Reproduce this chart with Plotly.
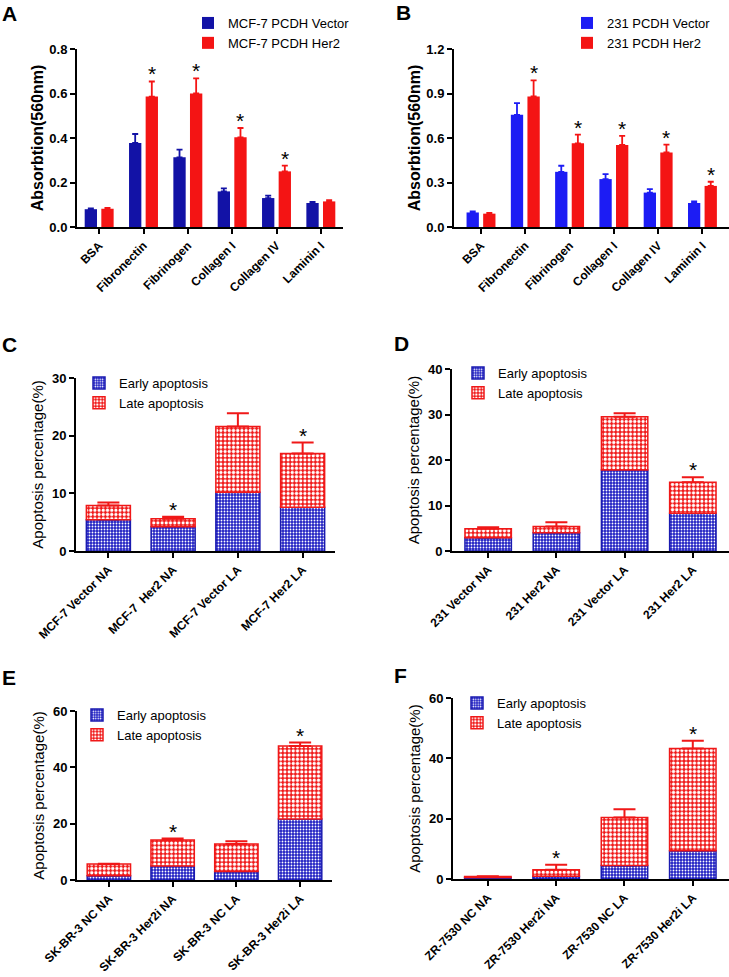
import plotly.graph_objects as go

# ---------------- data ----------------
# Panels A, B: adhesion assay
ecm = ["BSA", "Fibronectin", "Fibrinogen", "Collagen I", "Collagen IV", "Laminin I"]

a_vec = [0.08, 0.378, 0.313, 0.160, 0.130, 0.108]
a_vec_err = [0.004, 0.040, 0.035, 0.014, 0.011, 0.005]
a_her = [0.082, 0.586, 0.600, 0.403, 0.250, 0.115]
a_her_err = [0.004, 0.068, 0.068, 0.042, 0.026, 0.006]
a_sig = [False, True, True, True, True, False]

b_vec = [0.098, 0.756, 0.372, 0.323, 0.232, 0.162]
b_vec_err = [0.008, 0.079, 0.041, 0.033, 0.023, 0.011]
b_her = [0.090, 0.880, 0.564, 0.553, 0.503, 0.277]
b_her_err = [0.005, 0.108, 0.059, 0.061, 0.052, 0.028]
b_sig = [False, True, True, True, True, True]

# Panels C-F: apoptosis (early / late stacked)
c_cats = ["MCF-7 Vector NA", "MCF-7  Her2 NA", "MCF-7 Vector LA", "MCF-7 Her2 LA"]
c_early = [5.4, 4.2, 10.2, 7.6]
c_early_err = [0.3, 0.8, 2.1, 2.1]
c_late = [2.5, 1.4, 11.4, 9.3]
c_late_err = [0.5, 0.35, 2.3, 1.9]
c_sig = [False, True, False, True]

d_cats = ["231 Vector NA", "231 Her2 NA", "231 Vector LA", "231 Her2 LA"]
d_early = [2.9, 4.0, 17.8, 8.3]
d_early_err = [1.5, 0.7, 2.8, 0.7]
d_late = [2.0, 1.4, 11.7, 6.8]
d_late_err = [0.3, 0.9, 0.8, 1.1]
d_sig = [False, False, False, True]

e_cats = ["SK-BR-3 NC NA", "SK-BR-3 Her2i NA", "SK-BR-3 NC LA", "SK-BR-3 Her2i LA"]
e_early = [1.5, 5.0, 3.0, 21.7]
e_early_err = [0.1, 0.3, 0.5, 0.3]
e_late = [4.2, 9.2, 9.8, 25.9]
e_late_err = [0.1, 0.5, 1.0, 1.2]
e_sig = [False, True, False, True]

f_cats = ["ZR-7530 NC NA", "ZR-7530 Her2i NA", "ZR-7530 NC LA", "ZR-7530 Her2i LA"]
f_early = [0.5, 0.9, 4.5, 9.4]
f_early_err = [0.1, 0.2, 1.0, 2.8]
f_late = [0.3, 2.2, 15.9, 33.9]
f_late_err = [0.1, 1.6, 2.7, 2.5]
f_sig = [False, True, False, True]

# ---------------- style ----------------
W, H = 729, 977
FONT = "Arial, Liberation Sans, Helvetica, sans-serif"
A_BLUE = "#1212a6"
B_BLUE = "#1c1cf4"
RED = "#f41414"
E_BLUE = "#2222c4"
E_LINE = "#1a1ab0"
L_RED = "#f01818"

def xd(a, b):
    return [a / W, b / W]

def yd(top, bottom):
    return [1 - bottom / H, 1 - top / H]

fig = go.Figure()

GW = 0.278   # bar width (category units) for grouped panels
GO = 0.1875  # half spacing between paired bars

def grouped(cats, vec, vec_err, her, her_err, names, xa, ya, leg, blue):
    fig.add_trace(go.Bar(
        x=cats, y=vec, name=names[0], width=GW, offset=-GO - GW / 2,
        marker=dict(color=blue, line=dict(width=0)),
        error_y=dict(type="data", array=vec_err, arrayminus=[0] * len(vec),
                     symmetric=False, color=blue, thickness=1.8, width=3),
        xaxis=xa, yaxis=ya, legend=leg))
    fig.add_trace(go.Bar(
        x=cats, y=her, name=names[1], width=GW, offset=GO - GW / 2,
        marker=dict(color=RED, line=dict(width=0)),
        error_y=dict(type="data", array=her_err, arrayminus=[0] * len(her),
                     symmetric=False, color=RED, thickness=1.8, width=3),
        xaxis=xa, yaxis=ya, legend=leg))

def stacked(cats, early, early_err, late, late_err, xa, ya, leg):
    fig.add_trace(go.Bar(
        x=cats, y=early, name="Early apoptosis", width=0.68,
        marker=dict(color=E_BLUE, line=dict(color=E_LINE, width=1.5),
                    pattern=dict(shape=".", fgcolor="white", bgcolor=E_BLUE,
                                 size=3, solidity=0.3, fillmode="replace")),
        error_y=dict(type="data", array=early_err, arrayminus=[0] * len(early),
                     symmetric=False, color=E_LINE, thickness=2, width=11),
        xaxis=xa, yaxis=ya, legend=leg))
    fig.add_trace(go.Bar(
        x=cats, y=late, base=early, name="Late apoptosis", width=0.68,
        marker=dict(color=L_RED, line=dict(color=L_RED, width=1.5),
                    pattern=dict(shape=".", fgcolor="white", bgcolor=L_RED,
                                 size=4.2, solidity=0.45, fillmode="replace")),
        error_y=dict(type="data", array=late_err, arrayminus=[0] * len(late),
                     symmetric=False, color=L_RED, thickness=2, width=11),
        xaxis=xa, yaxis=ya, legend=leg))

grouped(ecm, a_vec, a_vec_err, a_her, a_her_err,
        ["MCF-7 PCDH Vector", "MCF-7 PCDH Her2"], "x", "y", "legend", A_BLUE)
grouped(ecm, b_vec, b_vec_err, b_her, b_her_err,
        ["231 PCDH Vector", "231 PCDH Her2"], "x2", "y2", "legend2", B_BLUE)
stacked(c_cats, c_early, c_early_err, c_late, c_late_err, "x3", "y3", "legend3")
stacked(d_cats, d_early, d_early_err, d_late, d_late_err, "x4", "y4", "legend4")
stacked(e_cats, e_early, e_early_err, e_late, e_late_err, "x5", "y5", "legend5")
stacked(f_cats, f_early, f_early_err, f_late, f_late_err, "x6", "y6", "legend6")

# significance stars
annotations = []

def stars_grouped(her, her_err, sig, xr, yr):
    for i, s in enumerate(sig):
        if s:
            annotations.append(dict(x=i + GO, y=her[i] + her_err[i], xref=xr, yref=yr,
                                    text="*", showarrow=False, yanchor="bottom",
                                    yshift=-6, font=dict(size=21, color="black", family=FONT)))

def stars_stacked(early, late, late_err, sig, xr, yr):
    for i, s in enumerate(sig):
        if s:
            annotations.append(dict(x=i, y=early[i] + late[i] + late_err[i], xref=xr, yref=yr,
                                    text="*", showarrow=False, yanchor="bottom",
                                    yshift=-6, font=dict(size=21, color="black", family=FONT)))

stars_grouped(a_her, a_her_err, a_sig, "x", "y")
stars_grouped(b_her, b_her_err, b_sig, "x2", "y2")
stars_stacked(c_early, c_late, c_late_err, c_sig, "x3", "y3")
stars_stacked(d_early, d_late, d_late_err, d_sig, "x4", "y4")
stars_stacked(e_early, e_late, e_late_err, e_sig, "x5", "y5")
stars_stacked(f_early, f_late, f_late_err, f_sig, "x6", "y6")

# panel letters
for letter, px, py in [("A", 9, 13), ("B", 403, 12), ("C", 9, 344), ("D", 401, 343),
                       ("E", 9, 677), ("F", 400, 675)]:
    annotations.append(dict(x=px / W, y=1 - py / H, xref="paper", yref="paper",
                            text="<b>%s</b>" % letter, showarrow=False,
                            xanchor="center", yanchor="middle",
                            font=dict(size=21, color="black", family=FONT)))

tickfont = dict(size=12, color="black", family=FONT, weight="bold")

def xaxis(dom, rng, ya):
    return dict(domain=xd(*dom), range=rng, showline=True, linecolor="black", linewidth=2,
                ticks="outside", ticklen=5, tickwidth=2, tickcolor="black",
                tickangle=-45, tickfont=tickfont, showgrid=False, zeroline=False,
                fixedrange=True, anchor=ya, automargin=False)

def yaxis(dom, rng, dtick, fmt, title, bold, standoff, xa):
    return dict(domain=yd(*dom), range=rng, dtick=dtick, tickformat=fmt, showline=True,
                linecolor="black", linewidth=2, ticks="outside", ticklen=5, tickwidth=2,
                tickcolor="black", tickfont=dict(size=13, color="black", family=FONT,
                                                  weight="bold"),
                title=dict(text=title, standoff=standoff,
                           font=dict(size=16 if bold else 15, color="black", family=FONT,
                                     weight="bold" if bold else "normal")),
                showgrid=False, zeroline=False, anchor=xa, fixedrange=True,
                automargin=False)

def legend(px, py, fs=13):
    return dict(x=px / W, y=1 - py / H, xanchor="left", yanchor="top",
                bgcolor="rgba(0,0,0,0)", borderwidth=0, tracegroupgap=0,
                font=dict(size=fs, color="black", family=FONT), itemclick=False)

fig.update_layout(
    width=W, height=H, margin=dict(l=0, r=0, t=0, b=0, autoexpand=False),
    paper_bgcolor="white", plot_bgcolor="white", barmode="overlay",
    font=dict(family=FONT, color="black"),
    xaxis=xaxis((77, 343), [-0.5, 5.5], "y"),
    yaxis=yaxis((49, 227), [0, 0.8], 0.2, ".1f", "Absorbtion(560nm)", True, 2, "x"),
    xaxis2=xaxis((454, 729), [-0.61, 5.6], "y2"),
    yaxis2=yaxis((49, 227), [0, 1.2], 0.3, ".1f", "Absorbtion(560nm)", True, 2, "x2"),
    xaxis3=xaxis((76, 335), [-0.5, 3.5], "y3"),
    yaxis3=yaxis((378, 551), [0, 30], 10, "d", "Apoptosis percentage(%)", False, 5, "x3"),
    xaxis4=xaxis((452, 729), [-0.53, 3.53], "y4"),
    yaxis4=yaxis((369, 551), [0, 40], 10, "d", "Apoptosis percentage(%)", False, 5, "x4"),
    xaxis5=xaxis((77, 332), [-0.5, 3.5], "y5"),
    yaxis5=yaxis((711, 880), [0, 60], 20, "d", "Apoptosis percentage(%)", False, 5, "x5"),
    xaxis6=xaxis((453, 729), [-0.51, 3.53], "y6"),
    yaxis6=yaxis((698, 879), [0, 60], 20, "d", "Apoptosis percentage(%)", False, 5, "x6"),
    legend=legend(188, 8),
    legend2=legend(567, 8),
    legend3=legend(79, 368),
    legend4=legend(458, 358),
    legend5=legend(77, 700),
    legend6=legend(457, 688),
    annotations=annotations,
    showlegend=True,
)

fig.write_html("out.html", config={"displayModeBar": False},
               post_script="document.body.style.margin='0px';")
